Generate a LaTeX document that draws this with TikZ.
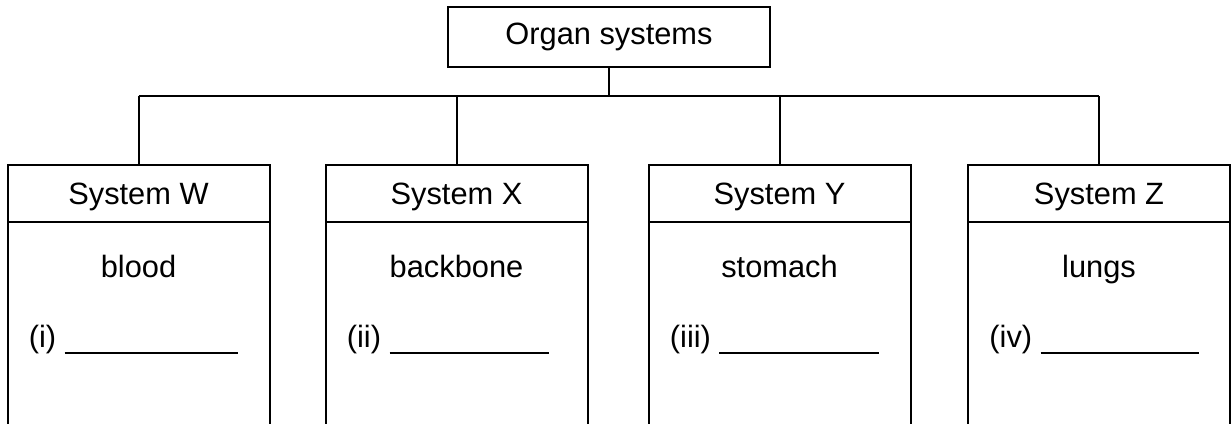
\documentclass[tikz,border=0pt]{standalone}
\usepackage{fontspec}
\setmainfont{Liberation Sans}
\usetikzlibrary{positioning}
\tikzset{
  px/.style={x=0.5pt, y=-0.5pt, font=\fontsize{15.4}{18}\selectfont},
  o top/.style={draw, line width=1pt, outer sep=0pt, inner sep=0pt, minimum width=161pt, minimum height=30pt},
  o head/.style={draw, line width=1pt, outer sep=0pt, inner sep=0pt, minimum width=131pt, minimum height=28.5pt, text depth=0pt},
  o body/.style={draw, line width=1pt, outer sep=0pt, inner sep=0pt, minimum width=131pt, minimum height=104pt},
  o txt/.style={anchor=base, inner sep=0pt},
  o num/.style={anchor=base west, inner sep=0pt},
  o line/.style={line width=1pt},
  o blank/.style={line width=0.7pt},
}
\begin{document}
\begin{tikzpicture}[px]
\useasboundingbox (0,0) rectangle (1231,423);
\clip (0,0) rectangle (1231,423);
\node[o top] (org) at (609,37) {Organ systems};
\coordinate (bus) at (609,96);
\foreach \n/\sys/\xc/\org/\num/\ue in {w/W/138.5/blood/i/238, x/X/456.5/backbone/ii/549, y/Y/779.5/stomach/iii/879, z/Z/1099/lungs/iv/1199}{
  \node[o head] (h\n) at (\xc,193.5) {System \sys};
  \node[o body, below=0pt of h\n] (b\n) {};
  \node[o txt] (t\n) at (\xc,277) {\org};
  \node[o num] (n\n) at (\xc-110,347) {(\num)};
  \coordinate (u\n) at (\ue,353);
  \draw[o blank] ([xshift=4pt]n\n.east |- u\n) -- (u\n);
  \draw[o line] (bus -| h\n.north) -- (h\n.north);
}
\draw[o line] (org.south) -- (org.south |- bus);
\draw[o line] (bus -| hw.north) -- (bus -| hz.north);
\end{tikzpicture}
\end{document}
